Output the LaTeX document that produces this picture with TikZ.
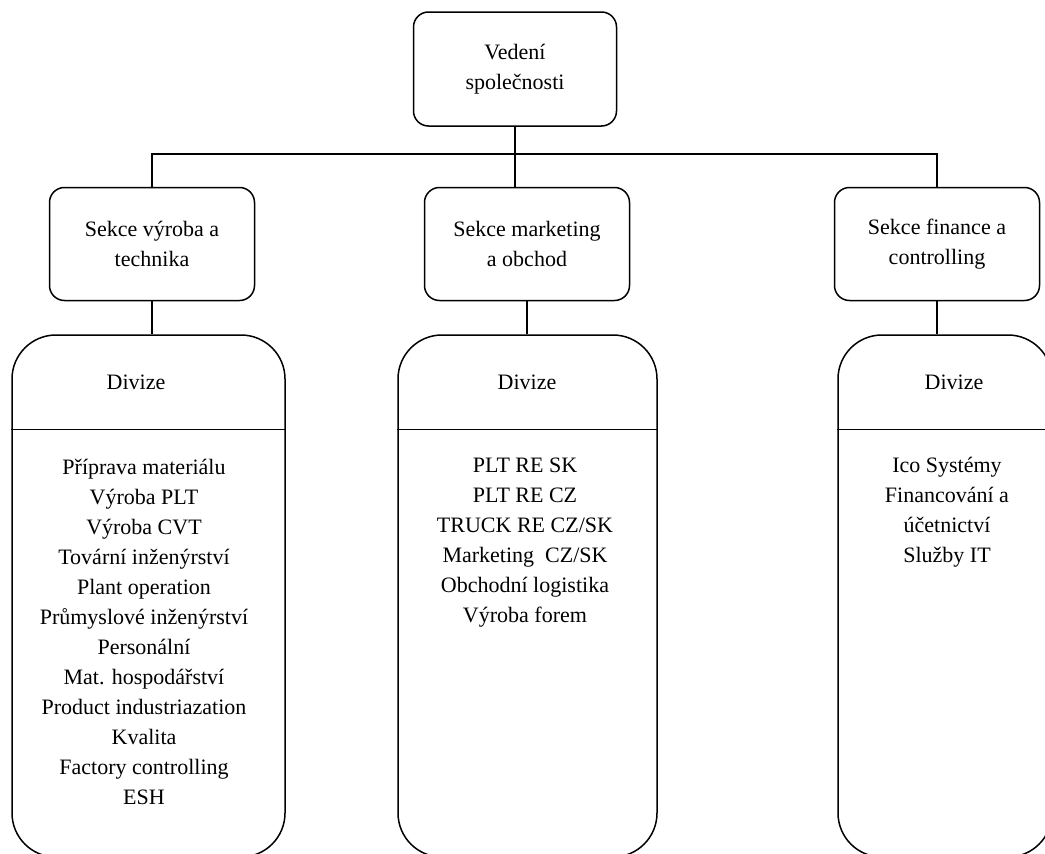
\documentclass[tikz,border=0pt]{standalone}
\usepackage{fontspec}
\setmainfont{Liberation Serif}
\usetikzlibrary{calc}
\begin{document}
\begin{tikzpicture}[x=1pt,y=1pt,
  txt/.style={font=\fontsize{22}{30}\selectfont, align=center, inner sep=0pt},
  topbox/.style={draw, line width=1.5pt, rounded corners=15pt, minimum width=203pt, minimum height=114pt, inner sep=0pt, txt},
  secbox/.style={draw, line width=1.5pt, rounded corners=15pt, minimum width=205pt, minimum height=113pt, inner sep=0pt, txt},
  divbox/.style={draw, line width=1.5pt, rounded corners=44pt, minimum height=522pt, inner sep=0pt},
  conn/.style={line width=1.5pt}
]
\useasboundingbox (0,0) rectangle (1045,-854);
\clip (0,0) rectangle (1045,-854);
\fill[white] (0,0) rectangle (1045,-854);

% top
\node[topbox] (top) at (515,-69) {Vedení\\společnosti};

% sections
\node[secbox] (sec1) at (152,-244) {Sekce výroba a\\technika};
\node[secbox] (sec2) at (527,-244) {Sekce marketing\\a obchod};
\node[secbox] (sec3) at (937,-244) {Sekce finance a\\controlling};

% division boxes
\node[divbox, minimum width=273pt] (div1) at (148.5,-596) {};
\node[divbox, minimum width=259pt] (div2) at (527.5,-596) {};
\node[divbox, minimum width=214pt] (div3) at (945,-596) {};

\foreach \d in {div1,div2,div3}{
  \draw[conn] ($(\d.north west)+(0,-95)$) -- ($(\d.north east)+(0,-95)$);
}

% headers
\node[txt] (h1) at (136,-382) {Divize};
\node[txt] (h2) at (527,-382) {Divize};
\node[txt] (h3) at (954,-382) {Divize};

% lists
\node[txt] (l1) at (144,-632) {Příprava materiálu\\Výroba PLT\\Výroba CVT\\Tovární inženýrství\\Plant operation\\Průmyslové inženýrství\\Personální\\Mat. hospodářství\\Product industriazation\\Kvalita\\Factory controlling\\ESH};
\node[txt] (l2) at (525,-542.5) {PLT RE SK\\PLT RE CZ\\TRUCK RE CZ/SK\\Marketing\ \ CZ/SK\\Obchodní logistika\\Výroba forem};
\node[txt] (l3) at (947,-512) {Ico Systémy\\Financování a\\účetnictví\\Služby IT};

% connectors
\coordinate (bus) at ($(top.south)+(0,-27)$);
\draw[conn] (top.south) -- (bus);
\draw[conn] (sec1.north) |- (bus) -| (sec3.north);
\draw[conn] (bus) -- (bus |- sec2.north);
\draw[conn] (sec1.south) -- (sec1.south |- div1.north);
\draw[conn] (sec2.south) -- (sec2.south |- div2.north);
\draw[conn] (sec3.south) -- (sec3.south |- div3.north);
\end{tikzpicture}
\end{document}
